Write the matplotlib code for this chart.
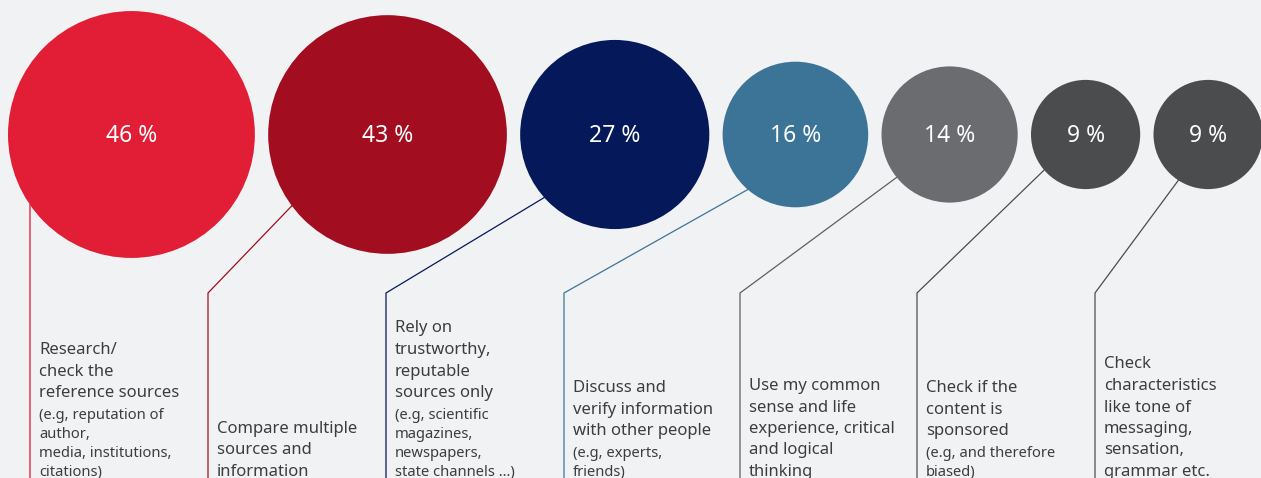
import numpy as np
import matplotlib.pyplot as plt
from matplotlib.patches import Circle

# share of respondents per verification habit
values = [46, 43, 27, 16, 14, 9, 9]

headlines = [
    ["Research/", "check the", "reference sources"],
    ["Compare multiple", "sources and", "information"],
    ["Rely on", "trustworthy,", "reputable", "sources only"],
    ["Discuss and", "verify information", "with other people"],
    ["Use my common", "sense and life", "experience, critical", "and logical", "thinking"],
    ["Check if the", "content is", "sponsored"],
    ["Check", "characteristics", "like tone of", "messaging,", "sensation,", "grammar etc."],
]

notes = [
    ["(e.g, reputation of", "author,", "media, institutions,", "citations)"],
    [],
    ["(e.g, scientific", "magazines,", "newspapers,", "state channels ...)"],
    ["(e.g, experts,", "friends)"],
    [],
    ["(e.g, and therefore", "biased)"],
    [],
]

bubble_colors = ["#E11E36", "#A30D20", "#05185A", "#3C7498", "#6B6C70", "#4B4C4E", "#4B4C4E"]
line_colors = ["#E3586B", "#A30D20", "#05185A", "#3C7498", "#5E5F62", "#4B4C4E", "#4B4C4E"]

# where each leader leaves its bubble (degrees, y pointing down) and where the text sits
leader_angles = [None, 143.3, 138.2, 130.9, 141.0, 139.4, 123.0]
text_x = [39, 217, 395, 573, 749, 926, 1104]

W, H = 1261, 478
BG = "#F1F2F4"
TEXT = "#3D3D3D"
KNEE_Y = 293
HEAD_SIZE = 12.0
NOTE_SIZE = 10.6

plt.rcParams['font.family'] = ['Noto Sans', 'DejaVu Sans']

fig = plt.figure(figsize=(W / 100, H / 100), dpi=100, facecolor=BG)
ax = fig.add_axes([0, 0, 1, 1])
ax.set_xlim(0, W)
ax.set_ylim(H, 0)
ax.set_aspect('equal')
ax.axis('off')
ax.set_facecolor(BG)

# bubble area proportional to value
radii = 18.2 * np.sqrt(values)
gap = 13.3
left = 8
cy = 134.5
centers = []
for r in radii:
    centers.append(left + r)
    left += 2 * r + gap

for i, v in enumerate(values):
    cx, r = centers[i], radii[i]
    ax.add_patch(Circle((cx, cy), r, facecolor=bubble_colors[i], edgecolor='none', zorder=2))
    ax.text(cx, cy + 1, f"{v} %", color='white', fontsize=16.5, ha='center', va='center', zorder=3)

    # leader line: bubble edge -> knee -> straight down
    knee_x = text_x[i] - 9
    if leader_angles[i] is None:
        a = np.arccos((knee_x - cx) / r)
    else:
        a = np.radians(leader_angles[i])
    sx, sy = cx + r * np.cos(a), cy + r * np.sin(a)
    ky = KNEE_Y if leader_angles[i] is not None else sy
    ax.plot([sx, knee_x, knee_x], [sy, ky, H + 5], color=line_colors[i],
            lw=0.9 if i else 1.3, zorder=1, solid_joinstyle='miter')

    # text block, stacked upwards from the bottom edge
    y = 476
    lines = [(t, HEAD_SIZE) for t in headlines[i]] + [(t, NOTE_SIZE) for t in notes[i]]
    prev = None
    for t, size in reversed(lines):
        if prev is not None:
            if prev == NOTE_SIZE and size == NOTE_SIZE:
                y -= 19
            elif prev == NOTE_SIZE:
                y -= 22
            else:
                y -= 21.5
        ax.text(text_x[i], y, t, color=TEXT, fontsize=size, ha='left', va='baseline')
        prev = size

fig.savefig("out.png", dpi=100, facecolor=BG)
